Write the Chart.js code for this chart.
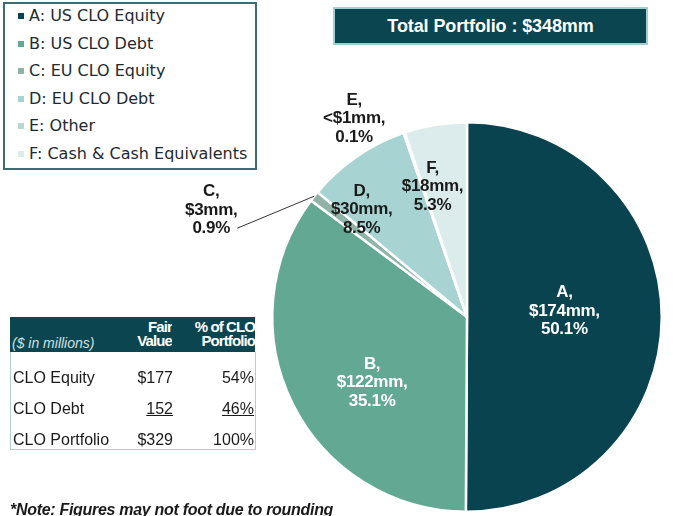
<!DOCTYPE html>
<html>
<head>
<meta charset="utf-8">
<script src="https://cdn.jsdelivr.net/npm/chart.js@4.4.0/dist/chart.umd.min.js"></script>
<style>
  html, body { margin: 0; padding: 0; background: #fff; }
  #wrap { position: relative; width: 673px; height: 516px; overflow: hidden; background: #fff; }
  #pie { position: absolute; left: 0; top: 0; }

  #legendBox {
    position: absolute; left: 3px; top: 2px; width: 250px; height: 164px;
    border: 2px solid #3f6b72; background: #fff;
    font-family: 'DejaVu Sans', sans-serif; font-size: 16px; color: #1e2a30;
  }
  .lg-row { position: absolute; left: 0; height: 20px; line-height: 20px; white-space: nowrap; }
  .lg-mark { position: absolute; left: 13px; top: 7px; width: 6px; height: 6px; }
  .lg-text { position: absolute; left: 24px; top: 0; }

  #totalBox {
    position: absolute; left: 333px; top: 7px; width: 311px; height: 34px;
    border: 2px solid #9fcfcf; background: #0b4650; color: #fff;
    font-family: 'Liberation Sans', Arial, sans-serif; font-weight: bold; font-size: 18px;
    letter-spacing: -0.1px; text-align: center; line-height: 34px;
  }

  #tblHead {
    position: absolute; left: 10px; top: 317px; width: 245px; height: 35px;
    background: #0b4650; color: #fff; font-family: 'Liberation Sans', Arial, sans-serif;
  }
  #tblHead .units { position: absolute; left: 2px; top: 18px; font-size: 14px; font-style: italic; color: #cfe0e0; }
  #tblHead .col { position: absolute; top: 3px; text-align: right; font-size: 15px; font-weight: bold;
    letter-spacing: -0.9px; line-height: 14px; white-space: nowrap; overflow: hidden; }
  #tblBody {
    position: absolute; left: 10px; top: 352px; width: 244px; height: 97px;
    border: 1.5px solid #b5cfcf; border-top: none;
    font-family: 'Liberation Sans', Arial, sans-serif; font-size: 16px; color: #1a1a1a;
  }
  .t-row { position: absolute; left: 0; width: 244px; height: 20px; line-height: 20px; }
  .t-name { position: absolute; left: 2px; }
  .t-fair { position: absolute; right: 82px; }
  .t-pct { position: absolute; right: 1px; }
  .uline { text-decoration: underline; }

  #note {
    position: absolute; left: 10px; top: 501px; white-space: nowrap;
    font-family: 'Liberation Sans', Arial, sans-serif; font-size: 16px; font-weight: bold;
    font-style: italic; letter-spacing: -0.3px; color: #1a1a1a;
  }
</style>
</head>
<body>
<div id="wrap">
  <canvas id="pie" width="673" height="516"></canvas>
  <div id="legendBox"></div>
  <div id="totalBox"></div>
  <div id="tblHead"></div>
  <div id="tblBody"></div>
  <div id="note"></div>
</div>
<script>
// ---- data ----
const sliceLetters = ['A', 'B', 'C', 'D', 'E', 'F'];
const sliceNames = ['US CLO Equity', 'US CLO Debt', 'EU CLO Equity', 'EU CLO Debt', 'Other', 'Cash & Cash Equivalents'];
const sliceValues = [174, 122, 3, 30, 0.35, 18];   // $mm
const sliceAmounts = ['$174mm', '$122mm', '$3mm', '$30mm', '<$1mm', '$18mm'];
const slicePercents = ['50.1%', '35.1%', '0.9%', '8.5%', '0.1%', '5.3%'];
const totalLabel = 'Total Portfolio : $348mm';

const tableRows = ['CLO Equity', 'CLO Debt', 'CLO Portfolio'];
const fairValues = ['$177', '152', '$329'];
const portfolioPcts = ['54%', '46%', '100%'];
const noteText = '*Note: Figures may not foot due to rounding';

// ---- styles ----
const sliceColors = ['#08434f', '#63a893', '#8fb3a6', '#a7d3d3', '#b7d6d6', '#dcecec'];
// label placement: f = fraction of radius along mid-angle, dx/dy = nudge
const labelPlacement = [
    { f: 0.5,  dx: 0,    dy: -6,  color: '#ffffff' },
    { f: 0.55, dx: 1,    dy: 18,  color: '#ffffff' },
    { f: 1.0,  dx: -103, dy: 14,  color: '#1a1a1a', leader: true },
    { f: 0.7,  dx: -28,  dy: 5,   color: '#1a1a1a' },
    { f: 1.0,  dx: -50,  dy: -14, color: '#1a1a1a' },
    { f: 0.68, dx: -13,  dy: 0,   color: '#1a1a1a' }
];

// ---- legend ----
const legendBox = document.getElementById('legendBox');
sliceLetters.forEach((letter, i) => {
    const row = document.createElement('div');
    row.className = 'lg-row';
    row.style.top = (2 + i * 27.6) + 'px';
    const mark = document.createElement('div');
    mark.className = 'lg-mark';
    mark.style.background = sliceColors[i];
    const txt = document.createElement('div');
    txt.className = 'lg-text';
    txt.textContent = letter + ': ' + sliceNames[i];
    row.appendChild(mark);
    row.appendChild(txt);
    legendBox.appendChild(row);
});

document.getElementById('totalBox').textContent = totalLabel;
document.getElementById('note').textContent = noteText;

// ---- table ----
const tblHead = document.getElementById('tblHead');
tblHead.innerHTML =
    '<div class="units">($ in millions)</div>' +
    '<div class="col" style="right:83px">Fair<br>Value</div>' +
    '<div class="col" style="right:0;width:64px">% of CLO<br>Portfolio</div>';

const tblBody = document.getElementById('tblBody');
tableRows.forEach((name, i) => {
    const row = document.createElement('div');
    row.className = 't-row';
    row.style.top = (16 + i * 31) + 'px';
    const under = i === tableRows.length - 2 ? ' uline' : '';
    row.innerHTML =
        '<span class="t-name">' + name + '</span>' +
        '<span class="t-fair' + under + '">' + fairValues[i] + '</span>' +
        '<span class="t-pct' + under + '">' + portfolioPcts[i] + '</span>';
    tblBody.appendChild(row);
});

// ---- slice labels plugin ----
const sliceLabels = {
    id: 'sliceLabels',
    afterDatasetsDraw(chart) {
        const ctx = chart.ctx;
        const meta = chart.getDatasetMeta(0);
        ctx.save();
        ctx.font = 'bold 17px "Liberation Sans", Arial, sans-serif';
        if ('letterSpacing' in ctx) ctx.letterSpacing = '-0.3px';
        ctx.textAlign = 'center';
        ctx.textBaseline = 'middle';
        meta.data.forEach((arc, i) => {
            const p = arc.getProps(['x', 'y', 'startAngle', 'endAngle', 'outerRadius'], true);
            const mid = (p.startAngle + p.endAngle) / 2;
            const pl = labelPlacement[i];
            const ex = p.x + Math.cos(mid) * p.outerRadius * pl.f;
            const ey = p.y + Math.sin(mid) * p.outerRadius * pl.f;
            const cx = ex + pl.dx;
            const cy = ey + pl.dy;
            const lines = [sliceLetters[i] + ',', sliceAmounts[i] + ',', slicePercents[i]];
            ctx.fillStyle = pl.color;
            lines.forEach((ln, k) => ctx.fillText(ln, cx, cy + (k - 1) * 18.5));
            if (pl.leader) {
                ctx.strokeStyle = '#333';
                ctx.lineWidth = 1;
                ctx.beginPath();
                ctx.moveTo(cx + 26, cy + 18);
                ctx.lineTo(ex, ey);
                ctx.stroke();
            }
        });
        ctx.restore();
    }
};

new Chart(document.getElementById('pie'), {
    type: 'pie',
    data: {
        labels: sliceLetters.map((l, i) => l + ': ' + sliceNames[i]),
        datasets: [{
            data: sliceValues,
            backgroundColor: sliceColors,
            borderColor: '#ffffff',
            borderWidth: 2.5
        }]
    },
    options: {
        responsive: false,
        animation: false,
        devicePixelRatio: 1,
        layout: { padding: { left: 271, right: 10, top: 121, bottom: 3 } },
        plugins: {
            legend: { display: false },
            tooltip: { enabled: false }
        }
    },
    plugins: [sliceLabels]
});
</script>
</body>
</html>
